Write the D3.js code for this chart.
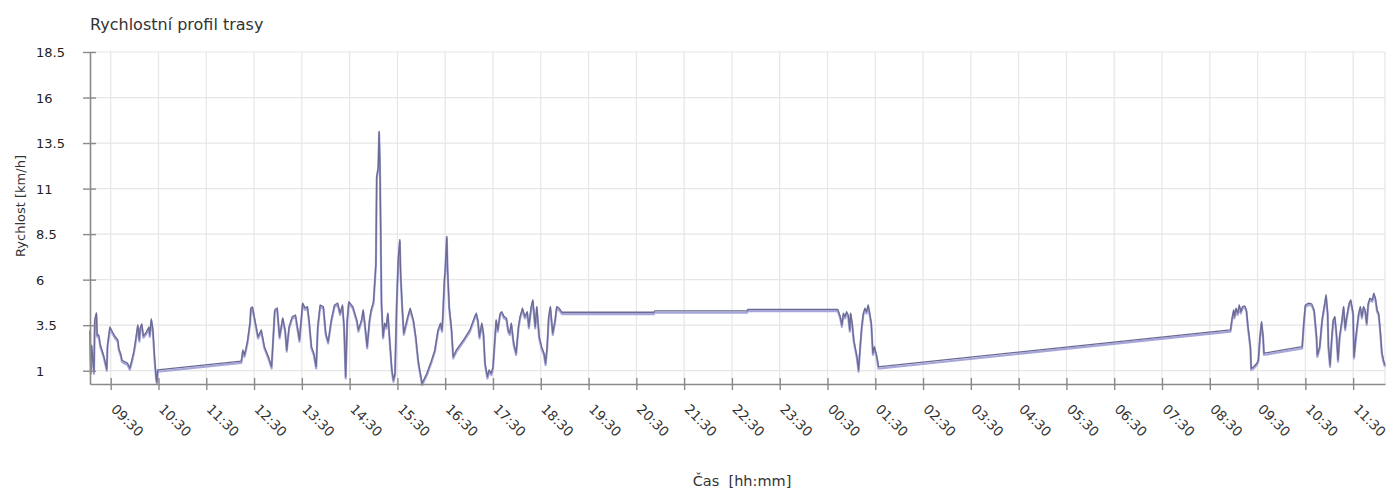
<!DOCTYPE html>
<html>
<head>
<meta charset="utf-8">
<script src="https://cdn.jsdelivr.net/npm/d3@7"></script>
<style>
  html, body { margin: 0; padding: 0; background: #fff; }
  svg { display: block; font-family: "DejaVu Sans", sans-serif; }
</style>
</head>
<body>
<svg id="chart" width="1393" height="493"></svg>
<script>
// ---- data ----
const chartTitle = "Rychlostní profil trasy";
const yAxisTitle = "Rychlost [km/h]";
const xAxisTitle = "Čas  [hh:mm]";
const startTime = "09:00"; // reference clock for minute offsets (day 1)
// [minutes since start, speed km/h]
const track = [
[4,3.24],[5,0.93],[6,2.41],[7,1.86],[9,0.93],[10,3.79],[12,4.17],[13,2.96],[15,2.96],[17,2.41],[21,1.86],[24,1.31],[25,1.09],[26,2.41],[29,3.40],[33,3.07],[36,2.85],[39,2.69],[40,2.25],[43,1.86],[44,1.59],[48,1.48],[51,1.42],[54,1.15],[56,1.48],[59,2.03],[61,2.58],[64,3.51],[66,2.69],[67,3.35],[69,3.57],[71,2.91],[74,3.07],[76,3.24],[78,3.40],[79,2.96],[81,3.84],[83,3.24],[85,1.75],[87,0.65],[88,0.38],[89,1.04],
[194,1.53],[196,2.14],[198,1.86],[200,2.25],[202,2.69],[205,3.68],[206,4.45],[208,4.50],[211,3.79],[215,2.87],[219,3.24],[223,2.32],[228,1.77],[232,1.22],[236,4.34],[239,4.45],[242,2.87],[246,3.90],[249,3.24],[251,2.14],[254,3.42],[258,3.97],[262,4.06],[267,2.69],[271,4.71],[274,4.45],[277,4.52],[279,3.79],[282,2.32],[285,1.96],[288,1.22],[290,3.42],[293,4.61],[297,4.52],[300,3.06],[303,2.59],[307,3.79],[311,4.61],[315,4.71],[318,4.16],[321,4.61],[323,3.42],[325,0.67],[327,3.79],[329,4.79],[334,4.52],[339,3.79],[341,3.24],[345,3.79],[347,4.34],[349,3.61],[352,2.32],[355,3.79],[357,4.34],[360,4.79],[363,6.90],[364,11.66],[366,12.21],[367,14.14],[368,12.40],[369,8.73],[370,4.71],[372,2.87],[374,3.61],[376,3.42],[378,4.16],[380,2.87],[383,1.04],[385,0.49],[387,0.86],[389,4.52],[391,7.09],[393,8.19],[394,6.37],[396,4.52],[398,3.06],[400,3.42],[403,3.97],[406,4.43],[410,3.79],[413,2.87],[416,1.59],[418,1.04],[421,0.31],[427,0.86],[433,1.59],[437,2.14],[441,3.24],[444,3.61],[446,3.24],[447,3.97],[449,5.99],[450,6.54],[452,8.37],[453,6.54],[455,4.52],[458,3.24],[460,1.77],[464,2.14],[473,2.69],[481,3.24],[487,3.97],[489,4.16],[491,3.79],[493,2.87],[496,3.61],[498,3.06],[500,1.41],[503,0.67],[505,1.04],[508,0.86],[510,1.22],[512,2.51],[514,3.79],[516,3.24],[519,4.16],[521,4.24],[524,3.97],[527,3.88],[529,3.24],[531,3.06],[533,3.61],[536,2.51],[539,1.96],[542,3.42],[544,3.97],[547,4.43],[550,3.97],[553,4.24],[555,3.42],[558,4.52],[560,4.89],[563,3.42],[565,4.52],[568,2.87],[571,2.32],[574,1.96],[576,1.41],[578,2.32],[580,3.97],[582,4.52],[585,3.06],[588,3.79],[590,4.52],[593,4.43],[596,4.24],
[597,4.21],[712,4.21],[713,4.28],[829,4.28],[830,4.37],[943,4.37],
[946,3.97],[948,3.51],[950,4.16],[952,3.97],[954,4.24],[956,4.06],[958,3.24],[959,4.16],[961,3.61],[963,2.69],[967,1.77],[969,1.04],[971,2.32],[973,3.42],[975,4.16],[977,4.43],[979,4.24],[981,4.61],[983,4.16],[985,3.61],[987,1.96],[989,2.32],[992,1.77],[994,1.22],[996,1.22],
[1436,3.24],[1438,3.88],[1440,4.34],[1441,3.97],[1443,4.43],[1445,4.16],[1447,4.61],[1449,4.24],[1451,4.52],[1454,4.56],[1456,4.34],[1458,3.42],[1461,2.32],[1462,1.13],[1465,1.22],[1469,1.41],[1471,1.59],[1473,2.87],[1475,3.69],[1477,2.87],[1478,1.96],
[1526,2.32],[1528,3.61],[1530,4.61],[1534,4.71],[1538,4.67],[1541,4.34],[1544,2.87],[1545,1.86],[1548,2.32],[1551,3.79],[1554,4.61],[1556,5.16],[1558,4.16],[1559,2.32],[1561,1.31],[1563,2.69],[1565,3.79],[1567,3.97],[1569,3.06],[1571,1.59],[1573,2.87],[1576,3.79],[1578,4.52],[1580,3.33],[1582,3.97],[1585,4.71],[1587,4.89],[1590,4.16],[1591,1.77],[1594,3.06],[1597,4.16],[1599,4.52],[1601,3.97],[1603,4.52],[1605,4.34],[1607,3.61],[1609,4.71],[1611,4.98],[1614,4.89],[1616,5.26],[1618,4.98],[1620,4.34],[1622,4.16],[1624,3.24],[1626,2.04],[1628,1.59],[1630,1.31]
];
const yTickValues = [1, 3.5, 6, 8.5, 11, 13.5, 16, 18.5];
const yDomain = [0.27, 18.5];
const xTickLabels = ["09:30","10:30","11:30","12:30","13:30","14:30","15:30","16:30","17:30","18:30","19:30","20:30","21:30","22:30","23:30","00:30","01:30","02:30","03:30","04:30","05:30","06:30","07:30","08:30","09:30","10:30","11:30"];

// ---- layout ----
const W = 1393, H = 493;
const margin = {left: 90, right: 8, top: 52, bottom: 109};
const iw = W - margin.left - margin.right;
const ih = H - margin.top - margin.bottom;

const [sh, sm] = startTime.split(":").map(Number);
const base = new Date(2000, 0, 1, sh, sm);
const toDate = m => new Date(base.getTime() + m * 60000);

// tick dates from labels, rolling over midnight
let day = 0, prevH = -1;
const xTicks = xTickLabels.map(l => {
  const [h, mi] = l.split(":").map(Number);
  if (h < prevH) day++;
  prevH = h;
  return new Date(2000, 0, 1 + day, h, mi);
});

const x = d3.scaleTime()
  .domain(d3.extent(track, d => toDate(d[0])))
  .range([0, iw]);
const y = d3.scaleLinear().domain(yDomain).range([ih, 0]);

const svg = d3.select("#chart");
const g = svg.append("g").attr("transform", `translate(${margin.left},${margin.top})`);

// grid
g.append("g").selectAll("line").data(yTickValues).join("line")
  .attr("x1", 0).attr("x2", iw)
  .attr("y1", d => y(d)).attr("y2", d => y(d))
  .attr("stroke", "#e6e6e6").attr("stroke-width", 1.2);
g.append("g").selectAll("line").data(xTicks).join("line")
  .attr("x1", d => x(d)).attr("x2", d => x(d))
  .attr("y1", 0).attr("y2", ih)
  .attr("stroke", "#e6e6e6").attr("stroke-width", 1.2);
g.append("line").attr("x1", iw).attr("x2", iw).attr("y1", 0).attr("y2", ih)
  .attr("stroke", "#e6e6e6").attr("stroke-width", 1.2);

// line
const line = d3.line().x(d => x(toDate(d[0]))).y(d => y(d[1]));
g.append("path").datum(track).attr("d", line)
  .attr("fill", "none").attr("stroke", "#a6a6db").attr("stroke-width", 2.2)
  .attr("transform", "translate(0,1.8)").attr("stroke-linejoin", "round");
g.append("path").datum(track).attr("d", line)
  .attr("fill", "none").attr("stroke", "#6a6a92").attr("stroke-width", 1.3)
  .attr("stroke-linejoin", "round");

// axes
const xAxis = d3.axisBottom(x).tickValues(xTicks).tickFormat(d3.timeFormat("%H:%M"))
  .tickSizeInner(6).tickSizeOuter(0);
const xg = g.append("g").attr("transform", `translate(0,${ih})`).call(xAxis);
xg.select(".domain").attr("stroke", "#8a8a8a").attr("stroke-width", 1.6);
xg.selectAll(".tick line").attr("stroke", "#8a8a8a").attr("stroke-width", 1.4)
  .attr("y1", -6).attr("y2", 6);
xg.selectAll(".tick text")
  .attr("fill", "#333").attr("font-size", 13.5)
  .attr("text-anchor", "start")
  .attr("x", 0).attr("y", 0).attr("dy", 0)
  .attr("transform", "translate(-1,26) rotate(45)");

const yAxis = d3.axisLeft(y).tickValues(yTickValues).tickFormat(d => String(d))
  .tickSizeInner(7).tickSizeOuter(0);
const yg = g.append("g").call(yAxis);
yg.select(".domain").attr("stroke", "#8a8a8a").attr("stroke-width", 1.6);
yg.selectAll(".tick line").attr("stroke", "#8a8a8a").attr("stroke-width", 1.4)
  .attr("x1", -7).attr("x2", 6);
yg.selectAll(".tick text")
  .attr("fill", "#222").attr("font-size", 13)
  .attr("text-anchor", "start").attr("x", 36 - margin.left).attr("dy", "0.35em");
svg.selectAll(".domain, .tick text").attr("font-family", "DejaVu Sans, sans-serif");

// titles
svg.append("text").attr("x", 90).attr("y", 30).text(chartTitle)
  .attr("font-size", 16).attr("fill", "#333");
svg.append("text").attr("transform", `translate(25,${206}) rotate(-90)`)
  .attr("text-anchor", "middle").attr("font-size", 13).attr("fill", "#333")
  .text(yAxisTitle);
svg.append("text").attr("x", 742).attr("y", 486).attr("text-anchor", "middle")
  .attr("font-size", 14.5).attr("fill", "#333")
  .style("white-space", "pre").attr("xml:space", "preserve").text(xAxisTitle);
</script>
</body>
</html>
